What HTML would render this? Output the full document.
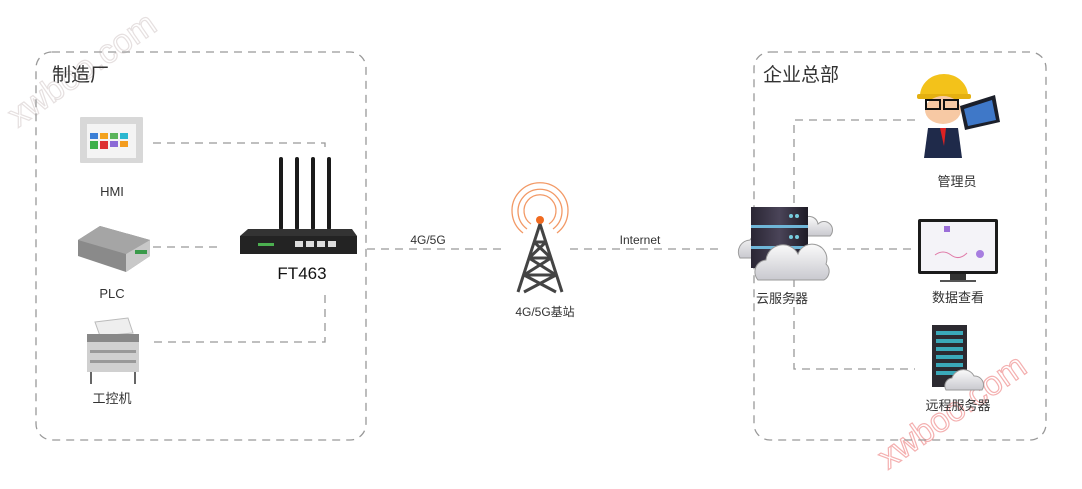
<!DOCTYPE html>
<html><head><meta charset="utf-8"><style>
html,body{margin:0;padding:0;background:#fff;}
svg{display:block;}
text{font-family:"Liberation Sans","Noto Sans CJK SC",sans-serif;fill:#333;}
</style></head><body>
<svg width="1082" height="489" viewBox="0 0 1082 489" xmlns="http://www.w3.org/2000/svg">
<defs>
<linearGradient id="srv" x1="0" y1="0" x2="1" y2="0"><stop offset="0" stop-color="#2a2634"/><stop offset="0.5" stop-color="#4a4458"/><stop offset="1" stop-color="#1e1b26"/></linearGradient>
<linearGradient id="cl" x1="0" y1="0" x2="0" y2="1"><stop offset="0" stop-color="#fafafa"/><stop offset="1" stop-color="#c9c9cf"/></linearGradient>
</defs>
<!-- watermarks -->
<text x="0" y="0" transform="translate(18,128) rotate(-35)" font-size="34" fill="none" stroke="#e6e0e0" stroke-width="1.2" style="fill:none">xwboo.com</text>
<text x="0" y="0" transform="translate(888,470) rotate(-35)" font-size="34" style="fill:none" stroke="#f4b0b0" stroke-width="1.2">xwboo.com</text>

<g fill="none" stroke="#999" stroke-width="1.3" stroke-dasharray="8,6">
<rect x="36" y="52" width="330" height="388" rx="16"/>
<rect x="754" y="52" width="292" height="388" rx="16"/>
<path d="M153 143 H325 V152"/>
<path d="M153 247 H220"/>
<path d="M325 295 V342 H153"/>
<path d="M367 249 H505"/>
<path d="M570 249 H722"/>
<path d="M915 120 H794 V369 H915"/>
<path d="M833 249 H915"/>
</g>

<text x="52" y="81" font-size="19">制造厂</text>
<text x="763" y="81" font-size="19">企业总部</text>

<!-- HMI -->
<rect x="80" y="117" width="63" height="46" fill="#d8d8d8" rx="1"/>
<rect x="87" y="124" width="49" height="34" fill="#f4f4f4"/>
<g>
<rect x="90" y="133" width="8" height="6" fill="#3b7fd6"/><rect x="100" y="133" width="8" height="6" fill="#f3a21e"/><rect x="110" y="133" width="8" height="6" fill="#5bb45b"/><rect x="120" y="133" width="8" height="6" fill="#2bb7d0"/>
<rect x="90" y="141" width="8" height="8" fill="#3cb04b"/><rect x="100" y="141" width="8" height="8" fill="#d33"/><rect x="110" y="141" width="8" height="6" fill="#8b6ad6"/><rect x="120" y="141" width="8" height="6" fill="#f39c1e"/>
</g>
<text x="112" y="196" font-size="13" text-anchor="middle">HMI</text>

<!-- PLC -->
<polygon points="78,240 100,226 150,240 150,256 126,272 78,256" fill="#8a8a8a"/>
<polygon points="78,240 100,226 150,240 126,254" fill="#a5a5a5"/>
<polygon points="126,254 150,240 150,256 126,272" fill="#c8c8c8"/>
<rect x="135" y="250" width="12" height="4" fill="#3a9a4a"/>
<text x="112" y="298" font-size="13" text-anchor="middle">PLC</text>

<!-- printer -->
<polygon points="95,322 128,318 133,333 100,336" fill="#eee" stroke="#bbb"/>
<rect x="87" y="334" width="52" height="38" fill="#d0d0d0"/>
<rect x="87" y="334" width="52" height="8" fill="#888"/>
<rect x="90" y="350" width="46" height="3" fill="#999"/><rect x="90" y="360" width="46" height="3" fill="#999"/>
<rect x="90" y="372" width="2" height="12" fill="#666"/><rect x="134" y="372" width="2" height="12" fill="#666"/>
<text x="112" y="403" font-size="13" text-anchor="middle">工控机</text>

<!-- router -->
<g fill="#1a1a1a">
<rect x="279" y="157" width="4" height="73" rx="2"/><rect x="295" y="157" width="4" height="73" rx="2"/><rect x="311" y="157" width="4" height="73" rx="2"/><rect x="327" y="157" width="4" height="73" rx="2"/>
</g>
<polygon points="248,229 352,229 357,236 240,236" fill="#333"/>
<rect x="240" y="236" width="117" height="18" fill="#232323"/>
<rect x="258" y="243" width="16" height="3" fill="#4caf50"/>
<rect x="295" y="241" width="8" height="6" fill="#ddd"/><rect x="306" y="241" width="8" height="6" fill="#ddd"/><rect x="317" y="241" width="8" height="6" fill="#ddd"/><rect x="328" y="241" width="8" height="6" fill="#ddd"/>
<text x="302" y="279" font-size="17" text-anchor="middle" fill="#111" style="fill:#111">FT463</text>
<text x="428" y="244" font-size="12" text-anchor="middle">4G/5G</text>

<!-- tower -->
<g fill="none" stroke="#f08040" stroke-width="1.3" opacity="0.8">
<path d="M531 224 A16 16 0 1 1 549 224"/><path d="M527 229 A22 22 0 1 1 553 229"/><path d="M523 233 A28 28 0 1 1 557 233"/>
</g>
<circle cx="540" cy="220" r="4" fill="#f06a20"/>
<g stroke="#444" stroke-width="3" fill="none">
<path d="M540 224 L518 292 M540 224 L562 292 M529 258 L551 258 M524 275 L556 275 M534 242 L546 242 M529 258 L546 242 M551 258 L534 242 M524 275 L551 258 M556 275 L529 258 M524 275 L556 292 M556 275 L524 292"/>
</g>
<text x="545" y="316" font-size="12" text-anchor="middle">4G/5G基站</text>
<text x="640" y="244" font-size="12" text-anchor="middle">Internet</text>

<!-- cloud server -->
<path d="M740 258 a12 12 0 0 1 10 -18 a14 14 0 0 1 25 2 a10 10 0 0 1 8 16 z" fill="url(#cl)" stroke="#999"/>
<path d="M790 230 a10 10 0 0 1 14 -12 a9 9 0 0 1 14 6 a8 8 0 0 1 12 12 h-40 z" fill="url(#cl)" stroke="#999"/>
<rect x="751" y="207" width="57" height="19" fill="url(#srv)"/><rect x="751" y="228" width="57" height="19" fill="url(#srv)"/><rect x="751" y="249" width="57" height="19" fill="url(#srv)"/>
<rect x="751" y="225" width="57" height="3" fill="#6fb6d8"/><rect x="751" y="246" width="57" height="3" fill="#6fb6d8"/>
<circle cx="791" cy="216" r="2" fill="#7cd"/><circle cx="797" cy="216" r="2" fill="#7cd"/><circle cx="791" cy="237" r="2" fill="#7cd"/><circle cx="797" cy="237" r="2" fill="#7cd"/>
<path d="M758 280 a12 12 0 0 1 8 -20 a17 17 0 0 1 32 -6 a13 13 0 0 1 28 10 a10 10 0 0 1 -2 16 z" fill="url(#cl)" stroke="#999"/>
<text x="782" y="303" font-size="13" text-anchor="middle">云服务器</text>

<!-- manager -->
<path d="M920 96 a24 22 0 0 1 48 0 z" fill="#f3c21a"/><rect x="917" y="94" width="54" height="5" fill="#e4b010" rx="2"/>
<ellipse cx="943" cy="110" rx="18" ry="14" fill="#f7c9a4"/>
<rect x="926" y="100" width="14" height="9" fill="none" stroke="#111" stroke-width="2"/><rect x="944" y="100" width="14" height="9" fill="none" stroke="#111" stroke-width="2"/>
<path d="M928 128 h30 l4 30 h-38 z" fill="#1f2a4a"/><polygon points="940,128 946,128 944,146" fill="#d22"/>
<polygon points="960,106 995,95 1000,122 965,130" fill="#1b1f2a"/><polygon points="964,109 992,100 996,120 968,126" fill="#3f78c8"/>
<text x="957" y="186" font-size="13" text-anchor="middle">管理员</text>

<!-- monitor -->
<rect x="918" y="219" width="80" height="55" fill="#1b1b1b" rx="2"/>
<rect x="921" y="222" width="74" height="49" fill="#f4f3f8"/>
<rect x="944" y="226" width="6" height="6" fill="#9b6ed8"/>
<path d="M935 255 q8 -6 16 0 t16 -2" stroke="#e07aa8" fill="none"/><circle cx="980" cy="254" r="4" fill="#a77de0"/>
<rect x="950" y="274" width="16" height="6" fill="#333"/><rect x="940" y="280" width="36" height="2" fill="#555"/>
<text x="958" y="302" font-size="13" text-anchor="middle">数据查看</text>

<!-- remote server -->
<rect x="932" y="325" width="35" height="62" fill="#2c2a30"/>
<g fill="#3aa8b8"><rect x="936" y="331" width="27" height="4"/><rect x="936" y="339" width="27" height="4"/><rect x="936" y="347" width="27" height="4"/><rect x="936" y="355" width="27" height="4"/><rect x="936" y="363" width="27" height="4"/><rect x="936" y="371" width="27" height="4"/></g>
<path d="M946 390 a8 8 0 0 1 6 -12 a12 12 0 0 1 22 -2 a9 9 0 0 1 8 14 z" fill="url(#cl)" stroke="#999"/>
<text x="958" y="410" font-size="13" text-anchor="middle">远程服务器</text>
</svg>
</body></html>
